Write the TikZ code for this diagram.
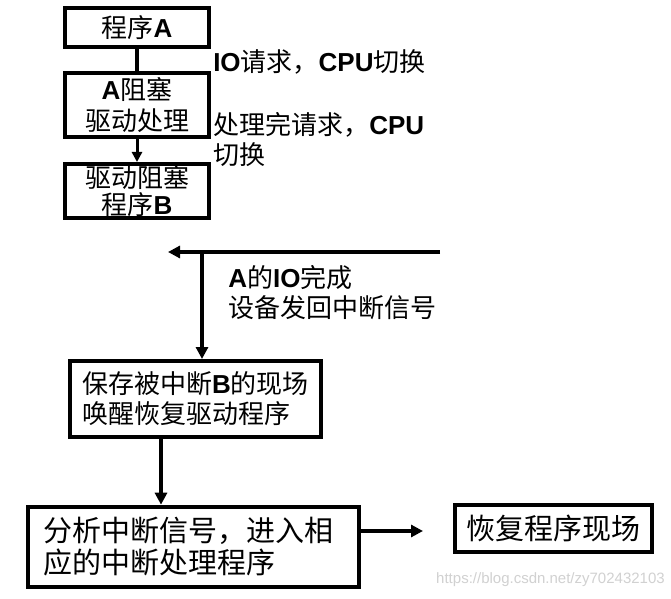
\documentclass[tikz,border=0pt]{standalone}
\usepackage{fontspec}
\setmainfont{Noto Sans CJK SC}
\newfontfamily\ensf{Liberation Sans}
\newcommand\en[1]{{\ensf\bfseries #1}}
\usetikzlibrary{arrows.meta}
\begin{document}
\begin{tikzpicture}[x=0.75pt,y=-0.75pt,
  box/.style={draw,line width=3pt,inner sep=0pt,align=center},
  bigbox/.style={draw,line width=3.5pt,inner sep=0pt},
  txt/.style={font=\fontsize{19.5}{22.5}\selectfont},
  bigtxt/.style={font=\fontsize{21.75}{24}\selectfont},
  lbl/.style={txt,anchor=west,inner sep=0pt,align=left},
  conn/.style={line width=3pt},
  arr/.style={line width=3pt,-{Triangle[length=9pt,width=9pt]}},
  smallarr/.style={line width=2.25pt,-{Triangle[length=7.5pt,width=7.5pt]}}]
\useasboundingbox (0,0) rectangle (671,599);
\fill[white] (0,0) rectangle (671,599);
% boxes
\node[box,txt,minimum width=108pt,minimum height=29.25pt] (b1) at (137,27.5) {程序\en{A}};
\node[box,font=\fontsize{19.5}{23}\selectfont,minimum width=108pt,minimum height=48pt] (b2) at (137,105) {\en{A}阻塞\\驱动处理};
\node[box,font=\fontsize{19.5}{20}\selectfont,minimum width=108pt,minimum height=40.5pt] (b3) at (137,191) {驱动阻塞\\程序\en{B}};
\node[box,font=\fontsize{19.5}{22.5}\selectfont,minimum width=188.25pt,minimum height=57pt,align=left] (b4) at (195.5,399) {保存被中断\en{B}的现场\\唤醒恢复驱动程序};
\node[bigbox,bigtxt,text width=225.75pt,inner xsep=11.25pt,minimum height=60pt,align=left] (b5) at (193.5,547) {分析中断信号，进入相\\应的中断处理程序};
\node[bigbox,bigtxt,minimum width=147.75pt,minimum height=35.25pt] (b6) at (553.5,528.5) {恢复程序现场};
% labels
\node[lbl] (l1) at (213,62) {\en{IO}请求，\en{CPU}切换};
\node[lbl] (l2) at (213,140) {处理完请求，\en{CPU}\\切换};
\node[lbl,font=\fontsize{19.5}{23}\selectfont] (l3) at (228,292.5) {\en{A}的\en{IO}完成\\设备发回中断信号};
\node[anchor=east,inner sep=0pt,text=black!18,font=\ensf\fontsize{11.25}{12}\selectfont] (wm) at (665,580) {https://blog.csdn.net/zy702432103};
% connectors
\draw[conn] (b1) -- (b2);
\draw[smallarr] (b2) -- (b3);
\coordinate (hs) at (440,252);
\coordinate (he) at (168,252);
\coordinate (vj) at (202,250.5);
\draw[arr] (hs) -- (he);
\draw[arr] (vj) -- (vj |- b4.north);
\coordinate (d1) at (161,437);
\draw[arr] (d1) -- (d1 |- b5.north);
\coordinate (ae) at (423,531);
\draw[arr] (ae -| b5.east) -- (ae);
\end{tikzpicture}
\end{document}
